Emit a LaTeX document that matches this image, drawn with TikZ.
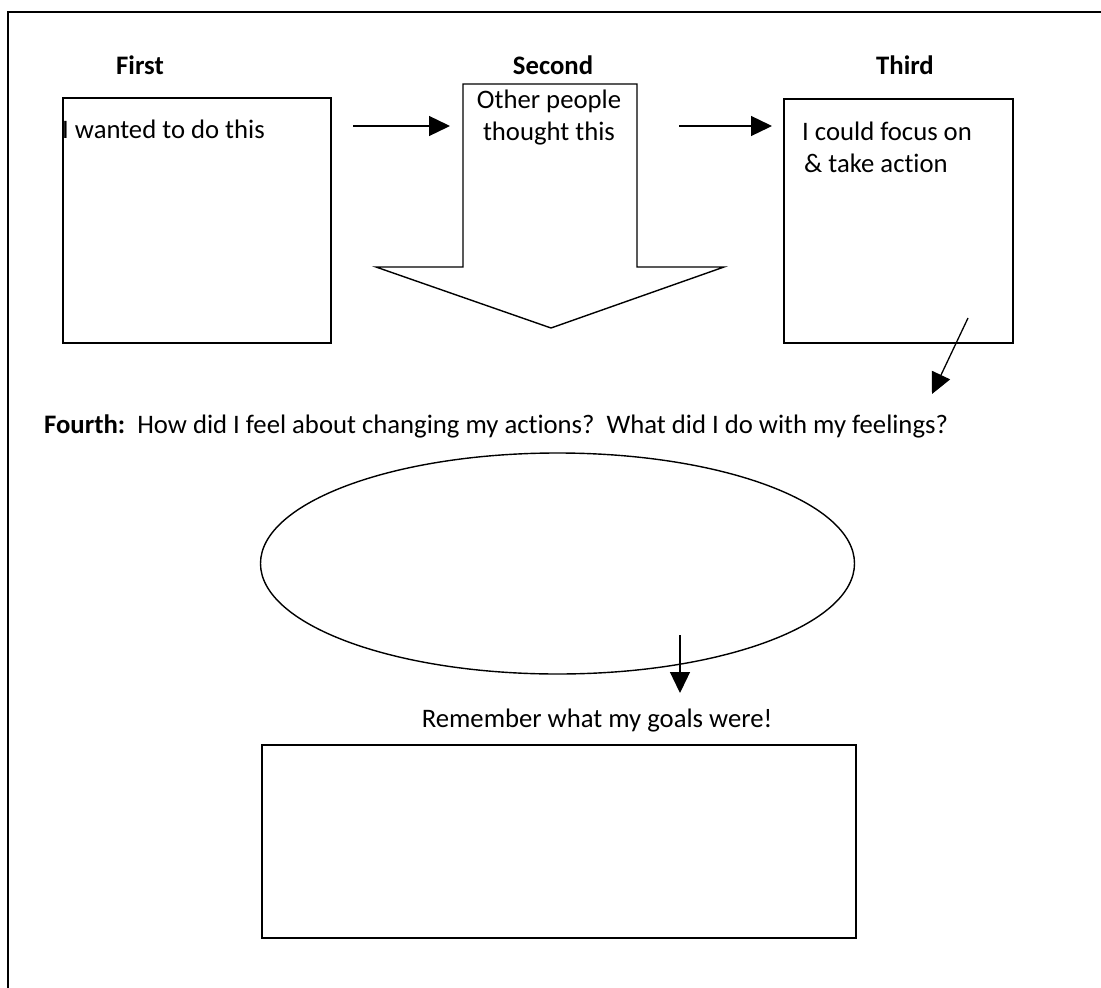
\documentclass[tikz,border=0pt]{standalone}
\usepackage{fontspec}
\setmainfont{Carlito}[Ligatures=NoCommon]
\usetikzlibrary{arrows.meta,shapes.geometric}
\begin{document}
\begin{tikzpicture}[x=1pt, y=-1pt,
    box/.style={draw, line width=1.6pt, anchor=north west, inner sep=0pt},
    link/.style={line width=1.3pt, -{Triangle[length=21pt, width=20pt]}},
    txt/.style={inner sep=0pt, font=\fontsize{26.7}{32}\selectfont},
    head/.style={inner sep=0pt, font=\fontsize{26.7}{32}\selectfont\bfseries}]
  \useasboundingbox (0,0) rectangle (1101,988);
  \draw[line width=1.8pt] (8,988) -- (8,12) -- (1101,12);
  % headings
  \node[head, anchor=base] (H1) at (140,74) {First};
  \node[head, anchor=base] (H2) at (553,74) {Second};
  \node[head, anchor=base] (H3) at (905,74) {Third};
  % boxes
  \node[box, minimum width=268, minimum height=245] (B1) at (62,97) {};
  \node[box, minimum width=229, minimum height=244] (B3) at (783,98) {};
  \node[box, minimum width=594, minimum height=193] (B5) at (261,744) {};
  \node[ellipse, draw, line width=1.4pt, minimum width=594, minimum height=221] (E4) at (557.5,563.5) {};
  % block arrow
  \draw[line width=1.4pt, line join=miter] (463,84) -- (637,84) -- (637,267) -- (724,267)
    -- (551,328) -- (376,267) -- (463,267) -- cycle;
  % texts
  \node[txt, anchor=base west] (T1) at (62,138) {I wanted to do this};
  \node[txt, anchor=base] (T2a) at (549,108) {Other people};
  \node[txt, anchor=base] (T2b) at (549,140) {thought this};
  \node[txt, anchor=base west] (T3a) at (802,140) {I could focus on};
  \node[txt, anchor=base west] (T3b) at (804,172) {\& take action};
  \node[txt, anchor=base west] (T4) at (44,433) {\textbf{Fourth:}\ \ How did I feel about changing my actions?\ \ What did I do with my feelings?};
  \node[txt, anchor=base] (T5) at (597,727) {Remember what my goals were!};
  % arrows
  \coordinate (A1) at (353,126);
  \coordinate (A2) at (450,126);
  \coordinate (A3) at (679,126);
  \coordinate (A4) at (772,126);
  \coordinate (A5) at (968,318);
  \coordinate (A6) at (932,394);
  \coordinate (A7) at (680,635);
  \coordinate (A8) at (680,693);
  \draw[link] (A1) -- (A2);
  \draw[link] (A3) -- (A4);
  \draw[link] (A5) -- (A6);
  \draw[link] (A7) -- (A8);
\end{tikzpicture}
\end{document}
